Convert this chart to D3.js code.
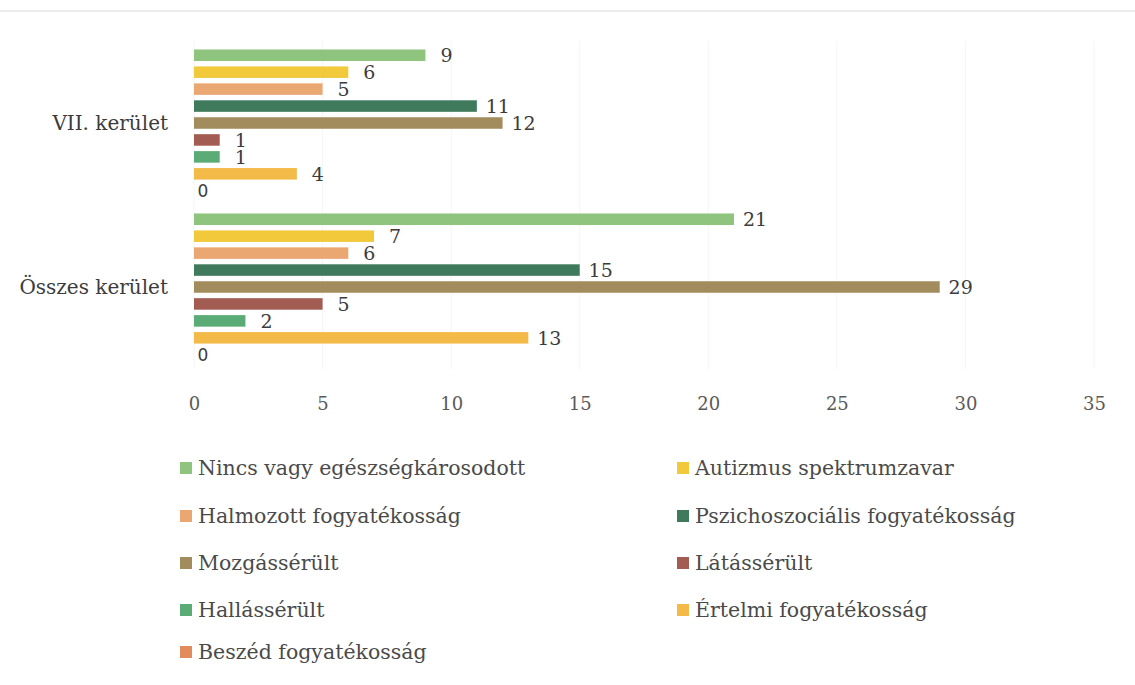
<!DOCTYPE html>
<html><head><meta charset="utf-8">
<script src="https://cdn.jsdelivr.net/npm/d3@7"></script>
<style>body{margin:0;background:#fff}</style>
</head><body>
<svg id="c" width="1135" height="685"></svg>
<script>
const categories = ["VII. kerület", "Összes kerület"];
const seriesNames = ["Nincs vagy egészségkárosodott","Autizmus spektrumzavar","Halmozott fogyatékosság","Pszichoszociális fogyatékosság","Mozgássérült","Látássérült","Hallássérült","Értelmi fogyatékosság","Beszéd fogyatékosság"];
const seriesColors = ["#8fc47f","#f2c93a","#eba772","#3f7a5c","#a28c5e","#a35c52","#5aab75","#f3ba48","#e28c5c"];
const valuesVII = [9,6,5,11,12,1,1,4,0];
const valuesAll = [21,7,6,15,29,5,2,13,0];
const xTicks = [0,5,10,15,20,25,30,35];

const values = [valuesVII, valuesAll];
const svg = d3.select("#c");
const serif = "'DejaVu Serif', serif";

// faint scan edge at top
svg.append("line").attr("x1",0).attr("x2",1135).attr("y1",11).attr("y2",11)
  .attr("stroke","#ececec").attr("stroke-width",2);

const x = d3.scaleLinear().domain([0,35]).range([194,1094]);
const y0 = d3.scaleBand().domain(categories).range([41,369]).paddingInner(0).paddingOuter(0);
const y1 = d3.scaleBand().domain(seriesNames).range([0,y0.bandwidth()]).paddingOuter(0.5).paddingInner(0.32);

// faint gridlines
svg.append("g").selectAll("line").data(xTicks).join("line")
  .attr("x1",d=>x(d)).attr("x2",d=>x(d)).attr("y1",41).attr("y2",369)
  .attr("stroke","#f5f5f5").attr("stroke-width",1);

const g = svg.append("g");
categories.forEach((cat,ci)=>{
  const grp = g.append("g").attr("transform",`translate(0,${y0(cat)})`);
  const data = seriesNames.map((s,i)=>({s,i,v:values[ci][i]}));
  grp.selectAll("rect").data(data).join("rect")
    .attr("x",x(0)).attr("y",d=>y1(d.s)).attr("width",d=>x(d.v)-x(0))
    .attr("height",y1.bandwidth()).attr("fill",d=>seriesColors[d.i]);
  grp.selectAll("text").data(data).join("text")
    .attr("x",d=>d.v===0 ? x(0)+9 : x(d.v)+21)
    .attr("y",d=>y1(d.s)+y1.bandwidth()/2+ (d.v===0?1:2))
    .attr("text-anchor","middle").attr("dominant-baseline","middle")
    .attr("font-family",d=>d.v===0?"'DejaVu Sans', sans-serif":serif)
    .attr("font-size",d=>d.v===0?17:19).attr("fill","#3c3c3c")
    .text(d=>d.v);
  svg.append("text").attr("x",168).attr("y",y0(cat)+y0.bandwidth()/2+1)
    .attr("text-anchor","end").attr("dominant-baseline","middle")
    .attr("font-family",serif).attr("font-size",20).attr("fill","#3c3c3c").text(cat);
});

// x axis labels
const ax = svg.append("g").attr("transform","translate(0,397)")
  .call(d3.axisBottom(x).tickValues(xTicks).tickSize(0).tickPadding(0));
ax.select(".domain").remove();
ax.selectAll("text").attr("font-family",serif).attr("font-size",18).attr("fill","#5a5a5a");

// legend
const legX = [180, 677];
const legY = [468, 516, 563, 610, 652];
const leg = svg.append("g").selectAll("g").data(seriesNames).join("g")
  .attr("transform",(d,i)=>`translate(${legX[i%2]},${legY[Math.floor(i/2)]})`);
leg.append("rect").attr("x",0).attr("y",-6).attr("width",12).attr("height",12)
  .attr("fill",(d,i)=>seriesColors[i]);
leg.append("text").attr("x",18).attr("y",1).attr("dominant-baseline","middle")
  .attr("font-family",serif).attr("font-size",20.5).attr("fill","#4a4a4a").text(d=>d);
</script>
</body></html>
